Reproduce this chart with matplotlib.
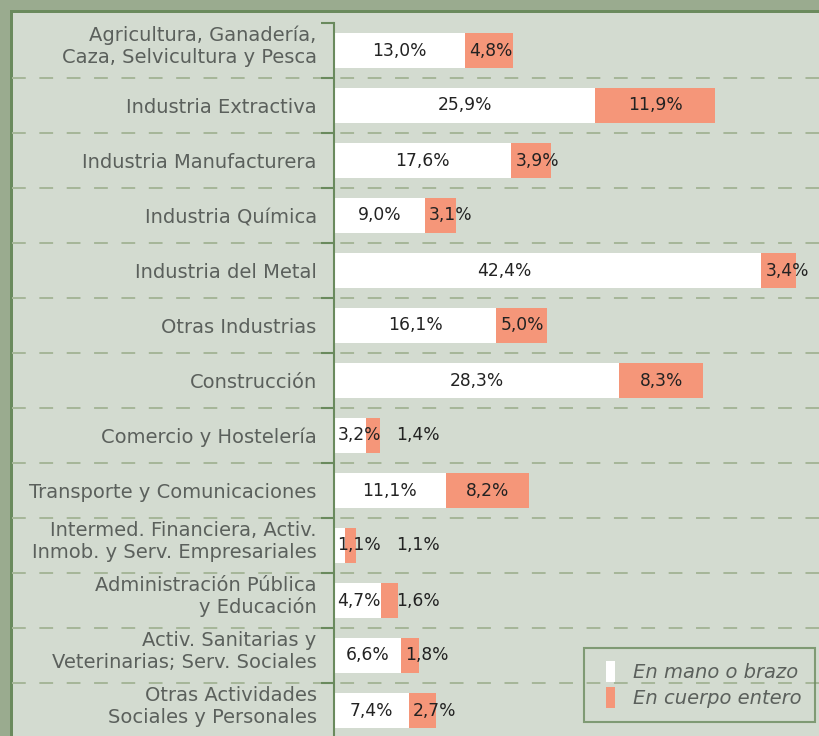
import matplotlib.pyplot as plt
import matplotlib.transforms as mtransforms
from matplotlib.patches import Rectangle
from matplotlib.legend_handler import HandlerPatch

plt.rcParams['font.family'] = ['DejaVu Sans']
plt.rcParams['lines.scale_dashes'] = False

categorias = [
    "Agricultura, Ganadería,\nCaza, Selvicultura y Pesca",
    "Industria Extractiva",
    "Industria Manufacturera",
    "Industria Química",
    "Industria del Metal",
    "Otras Industrias",
    "Construcción",
    "Comercio y Hostelería",
    "Transporte y Comunicaciones",
    "Intermed. Financiera, Activ.\nInmob. y Serv. Empresariales",
    "Administración Pública\ny Educación",
    "Activ. Sanitarias y\nVeterinarias; Serv. Sociales",
    "Otras Actividades\nSociales y Personales",
]
mano_brazo = [13.0, 25.9, 17.6, 9.0, 42.4, 16.1, 28.3, 3.2, 11.1, 1.1, 4.7, 6.6, 7.4]
cuerpo_entero = [4.8, 11.9, 3.9, 3.1, 3.4, 5.0, 8.3, 1.4, 8.2, 1.1, 1.6, 1.8, 2.7]
series = ["En mano o brazo", "En cuerpo entero"]

FONDO = '#d3dbd0'
BANDA = '#9aab8f'
VERDE = '#6a8a5d'
DISCONT = '#a6b699'
SALMON = '#f59679'
GRIS = '#5b605c'

W, H = 820, 736
fig = plt.figure(figsize=(W / 100, H / 100), dpi=100, facecolor=FONDO)

# marco exterior (arriba e izquierda)
fig.add_artist(Rectangle((0, 1 - 10 / H), 1, 10 / H, transform=fig.transFigure,
                         color=BANDA, lw=0, zorder=0))
fig.add_artist(Rectangle((0, 0), 10 / W, 1, transform=fig.transFigure,
                         color=BANDA, lw=0, zorder=0))
fig.add_artist(Rectangle((10 / W, 1 - 13 / H), 1, 3 / H, transform=fig.transFigure,
                         color=VERDE, lw=0, zorder=0))
fig.add_artist(Rectangle((10 / W, 0), 3 / W, 1 - 10 / H, transform=fig.transFigure,
                         color=VERDE, lw=0, zorder=0))

x0, ancho = 334, 486
ax = fig.add_axes([x0 / W, -2 / H, ancho / W, 715 / H])
ax.set_facecolor('none')

n = len(categorias)
y = list(range(n))
b1 = ax.barh(y, mano_brazo, height=0.64, color='white', lw=0, zorder=3)
b2 = ax.barh(y, cuerpo_entero, left=mano_brazo, height=0.64, color=SALMON, lw=0,
             zorder=3)

ax.set_xlim(0, ancho / 10.08)
ax.set_ylim(n - 0.5, -0.5)

# etiquetas de valor; las de segmentos estrechos se desplazan a la derecha
for i, (a, b) in enumerate(zip(mano_brazo, cuerpo_entero)):
    xa = min(max(a / 2, 2.5), 16.9)
    xb = max(a + b / 2, a + 2.6, xa + 5.8)
    ax.text(xa, i, f"{a:.1f}%".replace('.', ','), ha='center', va='center',
            fontsize=12.3, color='#222222', zorder=4)
    ax.text(xb, i, f"{b:.1f}%".replace('.', ','), ha='center', va='center',
            fontsize=12.3, color='#222222', zorder=4)

# líneas discontinuas entre categorías
for k in range(n):
    ax.axhline(k + 0.5, xmin=(12 - x0) / ancho, xmax=1, color=DISCONT, lw=1.44,
               dashes=(9.9, 9.8), clip_on=False, zorder=1)

for s in ['top', 'right', 'bottom']:
    ax.spines[s].set_visible(False)
ax.spines['left'].set_color(VERDE)
ax.spines['left'].set_linewidth(1.5)
ax.spines['left'].set_zorder(5)
ax.set_xticks([])
ax.set_yticks(y)
ax.set_yticklabels(categorias, fontsize=14, color=GRIS, linespacing=1.18)
ax.set_yticks([k - 0.5 for k in range(n + 1)], minor=True)
ax.tick_params(axis='y', which='major', length=0, pad=12.5)
ax.tick_params(axis='y', which='minor', length=9.4, width=1.5, color=VERDE)

# las etiquetas de dos líneas, centradas y algo más arriba
subir = mtransforms.ScaledTranslation(0, 4 / 100, fig.dpi_scale_trans)
for t in ax.get_yticklabels():
    if '\n' in t.get_text():
        t.set_va('center')
        t.set_transform(t.get_transform() + subir)


# barrita estrecha y alta para la leyenda
def barrita(legend, orig_handle, xdescent, ydescent, width, height, fontsize):
    return Rectangle((-xdescent + width - 6.5, -ydescent + (height - 15.1) / 2), 6.5, 15.1)


h1, h2 = b1.patches[0], b2.patches[0]
leg = ax.legend([h1, h2], series, loc='upper left', bbox_to_anchor=(584 / W, 1 - 648 / H),
                bbox_transform=fig.transFigure, borderaxespad=0, frameon=True,
                fancybox=False, facecolor='none', edgecolor=VERDE, fontsize=14,
                handlelength=0.88, handleheight=1.08, handletextpad=0.9,
                labelspacing=0.35, borderpad=0.72,
                handler_map={h1: HandlerPatch(patch_func=barrita),
                             h2: HandlerPatch(patch_func=barrita)})
leg.get_frame().set_linewidth(1.5)
for t in leg.get_texts():
    t.set_color(GRIS)
    t.set_style('italic')

fig.savefig('out.png', dpi=100, facecolor=FONDO)
